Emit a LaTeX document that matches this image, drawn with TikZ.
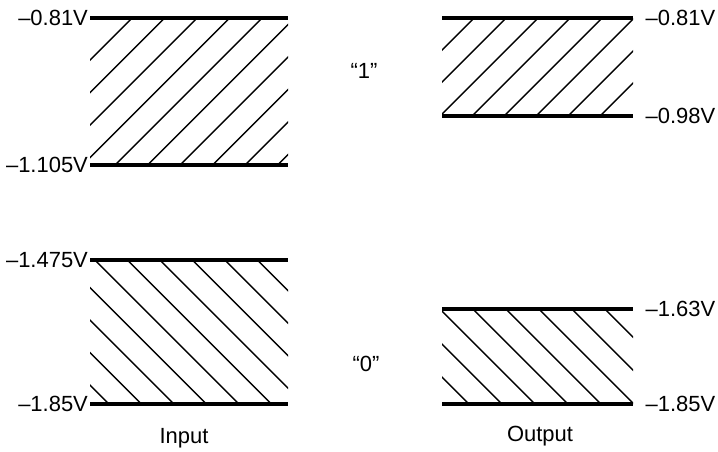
\documentclass[tikz,border=0pt]{standalone}
\usepackage{fontspec}
\setmainfont{Liberation Sans}
\begin{document}
\begin{tikzpicture}[x=0.02cm,y=-0.02cm,
  level/.style={line width=2pt},
  hatch/.style={line width=0.8pt},
  voltleft/.style={anchor=east, inner sep=1pt, font=\fontsize{12.5}{14}\selectfont},
  voltright/.style={anchor=west, inner sep=1pt, xshift=6pt, font=\fontsize{12.5}{14}\selectfont},
  caption/.style={font=\fontsize{12.5}{14}\selectfont}]
\useasboundingbox (0,0) rectangle (718,451);
% level ends
\coordinate (inOneA) at (90,18);
\coordinate (inOneB) at (288,18);
\coordinate (inOneC) at (90,165);
\coordinate (inOneD) at (288,165);
\coordinate (inZeroA) at (90,260);
\coordinate (inZeroB) at (288,260);
\coordinate (inZeroC) at (90,404);
\coordinate (inZeroD) at (288,404);
\coordinate (outOneA) at (442,18);
\coordinate (outOneB) at (633,18);
\coordinate (outOneC) at (442,116);
\coordinate (outOneD) at (633,116);
\coordinate (outZeroA) at (442,309);
\coordinate (outZeroB) at (633,309);
\coordinate (outZeroC) at (442,404);
\coordinate (outZeroD) at (633,404);
% hatching
\begin{scope}
\clip (inOneA) rectangle (inOneD);
\foreach \k in {0,...,9} \draw[hatch] ({150+32.5*\k},0) -- ({150+32.5*\k-200},200);
\end{scope}
\begin{scope}
\clip (inZeroA) rectangle (inZeroD);
\foreach \k in {-4,...,5} \draw[hatch] ({-165+32.5*\k+250},250) -- ({-165+32.5*\k+420},420);
\end{scope}
\begin{scope}
\clip (outOneA) rectangle (outOneD);
\foreach \k in {0,...,7} \draw[hatch] ({492+32*\k},0) -- ({492+32*\k-130},130);
\end{scope}
\begin{scope}
\clip (outZeroA) rectangle (outZeroD);
\foreach \k in {-2,...,5} \draw[hatch] ({131+33*\k+300},300) -- ({131+33*\k+420},420);
\end{scope}
% levels
\draw[level] (inOneA) -- (inOneB);
\draw[level] (inOneC) -- (inOneD);
\draw[level] (inZeroA) -- (inZeroB);
\draw[level] (inZeroC) -- (inZeroD);
\draw[level] (outOneA) -- (outOneB);
\draw[level] (outOneC) -- (outOneD);
\draw[level] (outZeroA) -- (outZeroB);
\draw[level] (outZeroC) -- (outZeroD);
% voltages
\node[voltleft] (vInHigh) at (inOneA) {--0.81V};
\node[voltleft] (vInMinHigh) at (inOneC) {--1.105V};
\node[voltleft] (vInMaxLow) at (inZeroA) {--1.475V};
\node[voltleft] (vInLow) at (inZeroC) {--1.85V};
\node[voltright] (vOutHigh) at (outOneB) {--0.81V};
\node[voltright] (vOutMinHigh) at (outOneD) {--0.98V};
\node[voltright] (vOutMaxLow) at (outZeroB) {--1.63V};
\node[voltright] (vOutLow) at (outZeroD) {--1.85V};
% states and captions
\node[caption] (stOne) at (364,71) {``1''};
\node[caption] (stZero) at (366,364) {``0''};
\node[caption] (capIn) at (184,438) {Input};
\node[caption] (capOut) at (540,436) {Output};
\end{tikzpicture}
\end{document}
